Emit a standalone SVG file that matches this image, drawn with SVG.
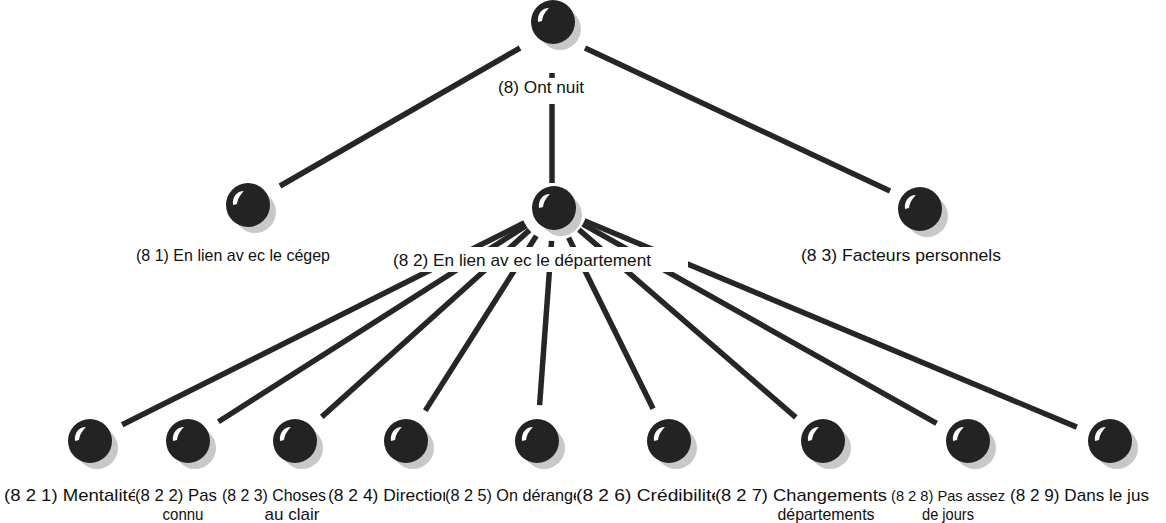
<svg xmlns="http://www.w3.org/2000/svg" width="1166" height="523" viewBox="0 0 1166 523">
  <style>
    .edge { stroke: #262626; stroke-width: 5.5; stroke-linecap: butt; fill: none; }
    .lbl { font-family: "Liberation Sans", Arial, sans-serif; font-size: 17px; fill: #111; }
    .mid { text-anchor: middle; }
    .bg { fill: #fff; }
  </style>
  <defs>
    <!-- shaded sphere: soft drop shadow, dark body, glossy highlight -->
    <g id="ball">
      <circle cx="7" cy="7" r="21" fill="#c8c8c8"/>
      <circle r="22" fill="#232323"/>
      <path d="M -15 0 C -16 -8 -11 -14 -4 -14 C -6 -12 -10 -8 -11 -1 Z" fill="#fff"/>
    </g>
    <clipPath id="c821" clipPathUnits="userSpaceOnUse"><rect x="0" y="470" width="135" height="53"/></clipPath>
    <clipPath id="c822" clipPathUnits="userSpaceOnUse"><rect x="135" y="470" width="87" height="53"/></clipPath>
    <clipPath id="c823" clipPathUnits="userSpaceOnUse"><rect x="222" y="470" width="106" height="53"/></clipPath>
    <clipPath id="c824" clipPathUnits="userSpaceOnUse"><rect x="328" y="470" width="117" height="53"/></clipPath>
    <clipPath id="c825" clipPathUnits="userSpaceOnUse"><rect x="445" y="470" width="131" height="53"/></clipPath>
    <clipPath id="c826" clipPathUnits="userSpaceOnUse"><rect x="576" y="470" width="139" height="53"/></clipPath>
    <clipPath id="c827" clipPathUnits="userSpaceOnUse"><rect x="715" y="470" width="176" height="53"/></clipPath>
    <clipPath id="c828" clipPathUnits="userSpaceOnUse"><rect x="891" y="470" width="118" height="53"/></clipPath>
    <clipPath id="c829" clipPathUnits="userSpaceOnUse"><rect x="1009" y="470" width="157" height="53"/></clipPath>
  </defs>

  <rect width="1166" height="523" fill="#fff"/>

  <g id="connectors">
    <line class="edge" x1="520" y1="48" x2="280" y2="186"/>
    <line class="edge" x1="552" y1="73" x2="552" y2="183"/>
    <line class="edge" x1="585" y1="48" x2="890" y2="191"/>
    <line class="edge" x1="524.5" y1="222.8" x2="122.2" y2="424.8"/>
    <line class="edge" x1="526.2" y1="225.7" x2="218.4" y2="421.7"/>
    <line class="edge" x1="529.5" y1="230.1" x2="321.8" y2="416.9"/>
    <line class="edge" x1="536.3" y1="235.9" x2="425.3" y2="410.6"/>
    <line class="edge" x1="551.6" y1="240.9" x2="539.6" y2="405.1"/>
    <line class="edge" x1="568.6" y1="237.6" x2="653.1" y2="408.7"/>
    <line class="edge" x1="578.9" y1="229.6" x2="795.8" y2="417.4"/>
    <line class="edge" x1="582.8" y1="224.2" x2="936.6" y2="423.3"/>
    <line class="edge" x1="584.4" y1="220.8" x2="1076.8" y2="427.1"/>
  </g>

  <g id="node-8">
    <use href="#ball" x="553" y="22"/>
    <rect class="bg" x="494" y="78" width="98" height="26"/>
    <text class="lbl" x="498" y="93" textLength="86" lengthAdjust="spacingAndGlyphs">(8) Ont nuit</text>
  </g>

  <g id="node-81">
    <use href="#ball" x="248" y="205"/>
    <text class="lbl" x="136" y="261" textLength="194" lengthAdjust="spacingAndGlyphs">(8 1) En lien av ec le cégep</text>
  </g>

  <g id="node-82">
    <use href="#ball" x="554" y="208"/>
    <rect class="bg" x="388" y="247" width="300" height="25"/>
    <text class="lbl" x="393" y="266" textLength="258" lengthAdjust="spacingAndGlyphs">(8 2) En lien av ec le département</text>
  </g>

  <g id="node-83">
    <use href="#ball" x="920" y="209"/>
    <text class="lbl" x="801" y="261" textLength="200" lengthAdjust="spacingAndGlyphs">(8 3) Facteurs personnels</text>
  </g>

  <g id="node-821">
    <use href="#ball" x="90" y="441"/>
    <text class="lbl" x="4" y="501" clip-path="url(#c821)" textLength="134" lengthAdjust="spacingAndGlyphs">(8 2 1) Mentalité</text>
  </g>

  <g id="node-822">
    <use href="#ball" x="188" y="441"/>
    <g clip-path="url(#c822)">
      <text class="lbl" x="135" y="501" textLength="82" lengthAdjust="spacingAndGlyphs">(8 2 2) Pas</text>
      <text class="lbl mid" x="183" y="520" textLength="41" lengthAdjust="spacingAndGlyphs">connu</text>
    </g>
  </g>

  <g id="node-823">
    <use href="#ball" x="295" y="441"/>
    <g clip-path="url(#c823)">
      <text class="lbl" x="222" y="501" textLength="104" lengthAdjust="spacingAndGlyphs">(8 2 3) Choses</text>
      <text class="lbl mid" x="292" y="520" textLength="55" lengthAdjust="spacingAndGlyphs">au clair</text>
    </g>
  </g>

  <g id="node-824">
    <use href="#ball" x="406" y="441"/>
    <text class="lbl" x="328" y="501" clip-path="url(#c824)" textLength="124" lengthAdjust="spacingAndGlyphs">(8 2 4) Direction</text>
  </g>

  <g id="node-825">
    <use href="#ball" x="537" y="441"/>
    <text class="lbl" x="445" y="501" clip-path="url(#c825)" textLength="137" lengthAdjust="spacingAndGlyphs">(8 2 5) On dérange</text>
  </g>

  <g id="node-826">
    <use href="#ball" x="669" y="441"/>
    <text class="lbl" x="576" y="501" clip-path="url(#c826)" textLength="146" lengthAdjust="spacingAndGlyphs">(8 2 6) Crédibilité</text>
  </g>

  <g id="node-827">
    <use href="#ball" x="823" y="441"/>
    <g clip-path="url(#c827)">
      <text class="lbl" x="715" y="501" textLength="172" lengthAdjust="spacingAndGlyphs">(8 2 7) Changements</text>
      <text class="lbl mid" x="826" y="520" textLength="97" lengthAdjust="spacingAndGlyphs">départements</text>
    </g>
  </g>

  <g id="node-828">
    <use href="#ball" x="968" y="441"/>
    <g clip-path="url(#c828)">
      <text class="lbl" x="891" y="501" font-size="15" style="font-size:15px" textLength="114" lengthAdjust="spacingAndGlyphs">(8 2 8) Pas assez</text>
      <text class="lbl mid" x="948" y="520" textLength="52" lengthAdjust="spacingAndGlyphs">de jours</text>
    </g>
  </g>

  <g id="node-829">
    <use href="#ball" x="1110" y="441"/>
    <text class="lbl" x="1010" y="501" clip-path="url(#c829)" textLength="139" lengthAdjust="spacingAndGlyphs">(8 2 9) Dans le jus</text>
  </g>
</svg>
